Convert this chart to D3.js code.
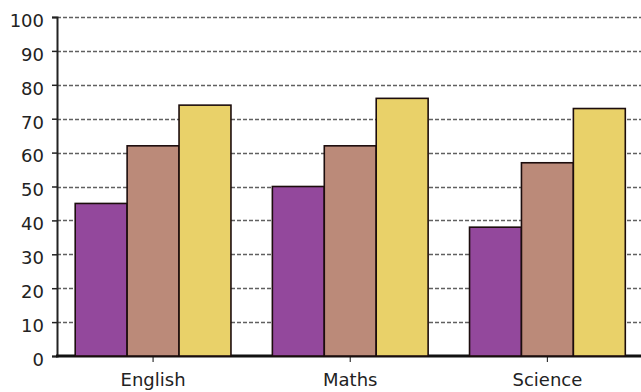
<!DOCTYPE html>
<html>
<head>
<meta charset="utf-8">
<script src="https://cdn.jsdelivr.net/npm/d3@7/dist/d3.min.js"></script>
<style>
  html, body { margin: 0; padding: 0; background: #fff; }
  svg { display: block; }
</style>
</head>
<body>
<svg id="chart" width="641" height="392"></svg>
<script>
// Subject scores, three series per subject
const subjects = ["English", "Maths", "Science"];
const seriesA = [45, 50, 38];
const seriesB = [62, 62, 57];
const seriesC = [74, 76, 73];
const seriesColors = ["#93489c", "#bb8a79", "#e9d169"];
const yTicks = [0, 10, 20, 30, 40, 50, 60, 70, 80, 90, 100];

const series = [seriesA, seriesB, seriesC];
const width = 641, height = 392;
const axisX = 57, baseY = 356, topY = 17;

const svg = d3.select("#chart");

const x = d3.scaleBand()
  .domain(subjects)
  .range([54.5, 646])
  .paddingInner(0.21)
  .paddingOuter(0.105);

const xSub = d3.scaleBand()
  .domain(d3.range(series.length))
  .range([0, x.bandwidth()]);

const y = d3.scaleLinear().domain([0, 100]).range([baseY, topY]);

// dashed horizontal grid
svg.append("g")
  .selectAll("line")
  .data(yTicks.filter(d => d > 0))
  .join("line")
  .attr("x1", axisX)
  .attr("x2", width)
  .attr("y1", d => Math.round(y(d)) + 0.5)
  .attr("y2", d => Math.round(y(d)) + 0.5)
  .attr("stroke", "#606060")
  .attr("stroke-width", 1.3)
  .attr("stroke-dasharray", "4,2");

// y axis
const yAxis = d3.axisLeft(y)
  .tickValues(yTicks)
  .tickSize(5)
  .tickPadding(8)
  .tickFormat(d3.format("d"));

const gy = svg.append("g")
  .attr("transform", `translate(${axisX},0)`)
  .call(yAxis);
gy.select(".domain").attr("stroke", "#222").attr("stroke-width", 2);
gy.selectAll(".tick line").attr("stroke", "#222").attr("stroke-width", 1.5);
gy.selectAll(".tick text")
  .attr("font-family", "DejaVu Sans, Verdana, sans-serif")
  .attr("font-size", 18)
  .attr("fill", "#222")
  .attr("dy", "0.52em");

// x axis baseline and category ticks
const xAxis = d3.axisBottom(x).tickSize(6).tickPadding(5);
const gx = svg.append("g")
  .attr("transform", `translate(0,${baseY})`)
  .call(xAxis);
gx.select(".domain").remove();
gx.selectAll(".tick line").attr("stroke", "#333").attr("stroke-width", 1.2);
gx.selectAll(".tick text")
  .attr("font-family", "DejaVu Sans, Verdana, sans-serif")
  .attr("font-size", 18)
  .attr("fill", "#222")
  .attr("dy", "1.05em");

svg.append("line")
  .attr("x1", axisX - 1)
  .attr("x2", width)
  .attr("y1", baseY)
  .attr("y2", baseY)
  .attr("stroke", "#111")
  .attr("stroke-width", 3);

// grouped bars
const groups = svg.append("g")
  .selectAll("g")
  .data(subjects)
  .join("g")
  .attr("transform", d => `translate(${x(d)},0)`);

groups.selectAll("rect")
  .data((d, i) => series.map((s, k) => ({ k, v: s[i] })))
  .join("rect")
  .attr("x", d => xSub(d.k))
  .attr("width", xSub.bandwidth())
  .attr("y", d => y(d.v))
  .attr("height", d => baseY - y(d.v))
  .attr("fill", d => seriesColors[d.k])
  .attr("stroke", "#1c0d0d")
  .attr("stroke-width", 1.6);
</script>
</body>
</html>
